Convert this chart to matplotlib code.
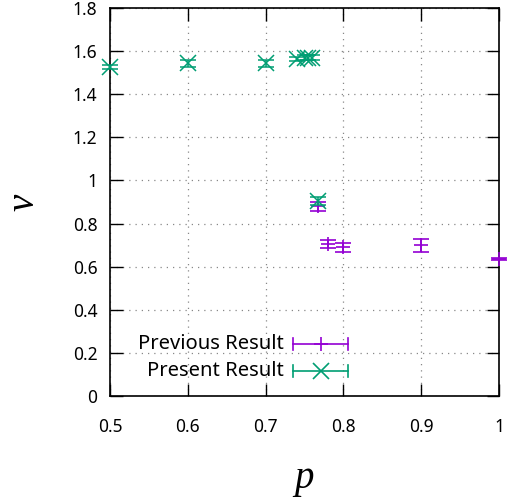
import matplotlib
matplotlib.use("Agg")
import matplotlib.pyplot as plt

# Previous result
prev_p = [0.767, 0.78, 0.80, 0.90, 1.00]
prev_nu = [0.88, 0.705, 0.69, 0.70, 0.635]
prev_err = [0.02, 0.02, 0.02, 0.03, 0.003]

# Present result
pres_p = [0.50, 0.60, 0.70, 0.74, 0.75, 0.755, 0.76, 0.767]
pres_nu = [1.527, 1.543, 1.543, 1.562, 1.57, 1.57, 1.57, 0.905]
pres_err = [0.01, 0.015, 0.015, 0.01, 0.01, 0.01, 0.01, 0.02]

xticks = [0.5, 0.6, 0.7, 0.8, 0.9, 1.0]
xticklabels = ["0.5", "0.6", "0.7", "0.8", "0.9", "1"]
yticks = [0, 0.2, 0.4, 0.6, 0.8, 1.0, 1.2, 1.4, 1.6, 1.8]
yticklabels = ["0", "0.2", "0.4", "0.6", "0.8", "1", "1.2", "1.4", "1.6", "1.8"]

purple = "#9400D3"
green = "#009E73"

plt.rcParams['font.family'] = ['Noto Sans', 'DejaVu Sans']

fig = plt.figure(figsize=(5.07, 5.01), dpi=100)
ax = fig.add_axes([110/507, 105/501, 389/507, 388/501])

ax.errorbar(prev_p, prev_nu, yerr=prev_err, fmt='+', color=purple, ms=9.5, mew=1.2,
            elinewidth=1.2, capsize=6, capthick=1.2, clip_on=False, zorder=3)
ax.errorbar(pres_p, pres_nu, yerr=pres_err, fmt='x', color=green, ms=11, mew=1.1,
            elinewidth=1.1, capsize=6, capthick=1.1, clip_on=False, zorder=4)

ax.set_xlim(0.5, 1.0)
ax.set_ylim(0, 1.8)
ax.set_xticks(xticks)
ax.set_xticklabels(xticklabels)
ax.set_yticks(yticks)
ax.set_yticklabels(yticklabels)
ax.tick_params(direction='in', length=9, width=1, top=True, right=True,
               labelsize=12.5, pad=9, colors='black')
ax.tick_params(axis='x', pad=16)
ax.grid(True, linestyle=(0, (1, 4)), color='#888888', linewidth=0.9)
ax.set_axisbelow(True)
for s in ax.spines.values():
    s.set_linewidth(1.2)

ax.set_xlabel("p", fontsize=28, family='Liberation Serif', style='italic', labelpad=17)
ax.set_ylabel("ν", fontsize=28, family='Liberation Serif', style='italic', labelpad=22)

# manual legend (gnuplot-style)
def axfrac_x(px):
    return (px - 110) / 389
def axfrac_y(py):
    return (396 - py) / 388

entries = [("Previous Result", purple, '+', 9.5, 344), ("Present Result", green, 'x', 11, 371)]
for label, col, mk, ms, py in entries:
    y = axfrac_y(py)
    ax.text(axfrac_x(284), y, label, transform=ax.transAxes, ha='right', va='center',
            fontsize=14.5)
    x0, x1 = axfrac_x(293), axfrac_x(348)
    ax.plot([x0, x1], [y, y], color=col, lw=1.2, transform=ax.transAxes, clip_on=False)
    ch = 6 / 388
    for xx in (x0, x1):
        ax.plot([xx, xx], [y - ch, y + ch], color=col, lw=1.2, transform=ax.transAxes, clip_on=False)
    ax.plot([(x0 + x1) / 2], [y], marker=mk, color=col, ms=ms, mew=1.2,
            transform=ax.transAxes, clip_on=False)

fig.savefig("out.png", dpi=100)
